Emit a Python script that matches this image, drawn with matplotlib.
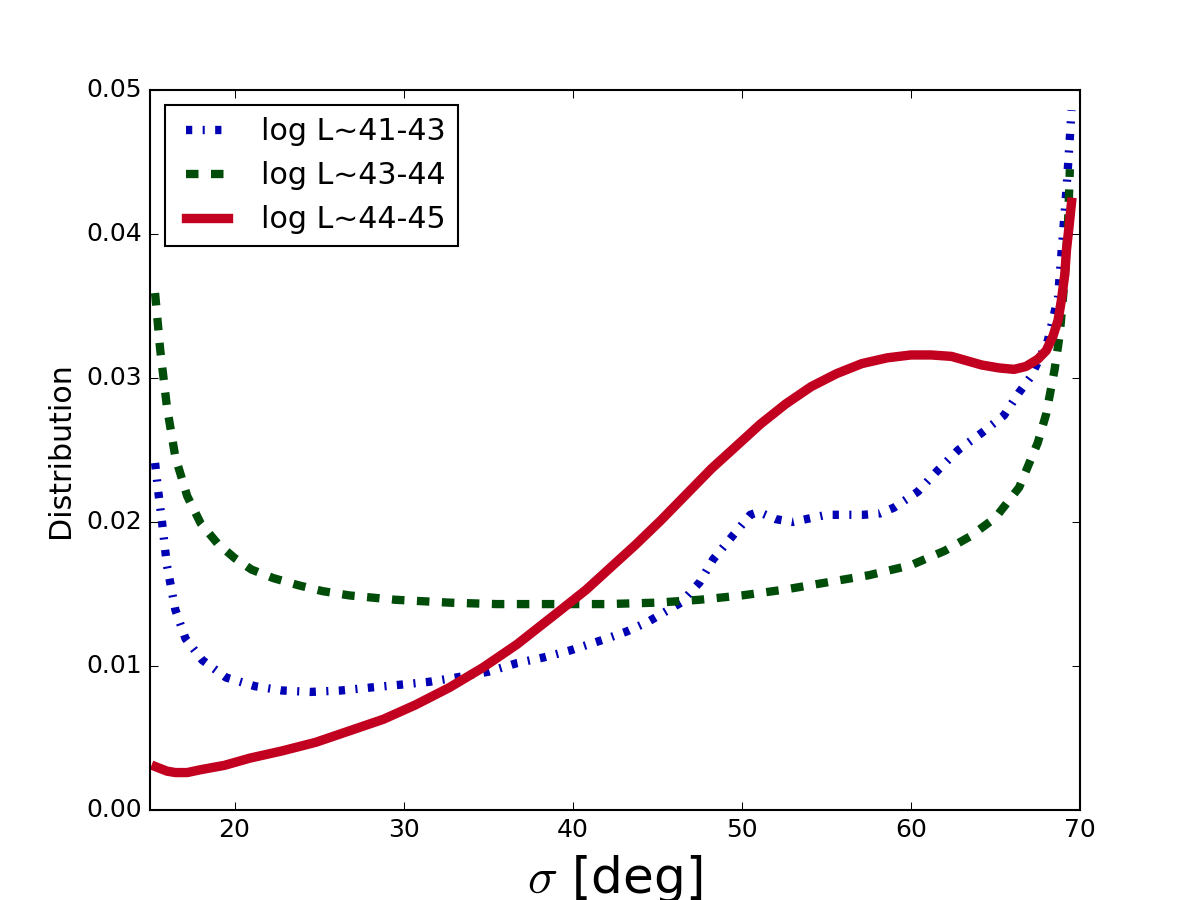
import matplotlib
matplotlib.use('Agg')
import matplotlib.pyplot as plt
import numpy as np

plt.style.use('classic')

x_low = [15.3, 15.5, 15.7, 16.0, 16.5, 17.1, 18.1, 19.5, 21.2, 22.8, 24.5, 26.3,
         28.0, 29.8, 31.5, 33.1, 35.0, 36.7, 38.3, 39.9, 42.0, 43.2, 44.5, 46.4,
         47.5, 48.3, 49.5, 50.5, 51.0, 52.0, 53.0, 55.0, 57.2, 58.2, 59.0, 60.4,
         61.6, 62.8, 64.2, 65.5, 66.4, 67.1, 68.1, 68.7, 69.0, 69.2, 69.4, 69.5]
y_low = [0.0241, 0.0220, 0.0201, 0.0170, 0.0139, 0.0119, 0.0104, 0.0092, 0.0086,
         0.0083, 0.0082, 0.0083, 0.0085, 0.0087, 0.0089, 0.0092, 0.0096, 0.0102,
         0.0106, 0.0111, 0.0119, 0.0124, 0.0131, 0.0144, 0.0158, 0.0174, 0.0191,
         0.0205, 0.0207, 0.0202, 0.0200, 0.0205, 0.0205, 0.0206, 0.0210, 0.0221,
         0.0236, 0.0250, 0.0262, 0.0274, 0.0290, 0.0301, 0.0326, 0.0356, 0.0401,
         0.0431, 0.0467, 0.0486]

x_mid = [15.3, 15.6, 16.0, 16.5, 17.2, 18.0, 19.0, 20.0, 21.0, 22.3, 23.8, 25.2,
         26.8, 29.5, 32.7, 35.5, 38.7, 42.0, 45.0, 47.5, 50.0, 52.5, 55.0, 57.5,
         60.0, 62.0, 63.5, 65.0, 66.4, 67.5, 68.0, 68.5, 68.8, 69.1, 69.3, 69.4]
y_mid = [0.0359, 0.0320, 0.0280, 0.0245, 0.0218, 0.0199, 0.0185, 0.0175, 0.0167,
         0.0161, 0.0156, 0.0152, 0.0149, 0.0146, 0.0144, 0.0143, 0.0143, 0.0143,
         0.0144, 0.0146, 0.0149, 0.0153, 0.0158, 0.0163, 0.0170, 0.0180, 0.0190,
         0.0203, 0.0224, 0.0255, 0.0275, 0.0306, 0.0330, 0.0370, 0.0410, 0.0445]

x_high = [15.35, 16.0, 16.5, 17.2, 18.0, 19.4, 20.9, 22.8, 24.8, 26.8, 28.8, 30.7,
          32.7, 34.7, 36.7, 38.0, 39.3, 40.8, 42.2, 43.7, 45.2, 46.7, 48.2, 49.7,
          51.1, 52.6, 54.1, 55.6, 57.1, 58.6, 60.0, 61.2, 62.4, 63.3, 64.2, 65.2,
          66.1, 66.8, 67.5, 68.0, 68.4, 68.7, 68.9, 69.1, 69.2, 69.35, 69.5]
y_high = [0.0030, 0.0027, 0.0026, 0.0026, 0.0028, 0.0031, 0.0036, 0.0041, 0.0047,
          0.0055, 0.0063, 0.0073, 0.0085, 0.0099, 0.0115, 0.0127, 0.0139, 0.0153,
          0.0168, 0.0184, 0.0201, 0.0219, 0.0237, 0.0253, 0.0268, 0.0282, 0.0294,
          0.0303, 0.0310, 0.0314, 0.0316, 0.0316, 0.0315, 0.0312, 0.0309, 0.0307,
          0.0306, 0.0308, 0.0313, 0.0319, 0.0329, 0.0340, 0.0354, 0.0372, 0.0389,
          0.0405, 0.0422]

labels = ['log L~41-43', 'log L~43-44', 'log L~44-45']

fig = plt.figure(figsize=(8, 6), dpi=150)
ax = fig.add_subplot(111)

ax.plot(x_low, y_low, '-.', color='#0000b4', lw=4, label=labels[0])
ax.plot(x_mid, y_mid, '--', color='#004d0a', lw=4, label=labels[1])
ax.plot(x_high, y_high, '-', color='#c2001f', lw=4.5, label=labels[2])

ax.set_xlim(15, 70)
ax.set_ylim(0, 0.05)
ax.set_xticks([20, 30, 40, 50, 60, 70])
ax.set_xlabel(r'$\sigma$ [deg]', fontsize=24)
ax.set_ylabel('Distribution', fontsize=14.4)
ax.legend(loc='upper left', fontsize=14.4)

plt.savefig('out.png', dpi=150)
